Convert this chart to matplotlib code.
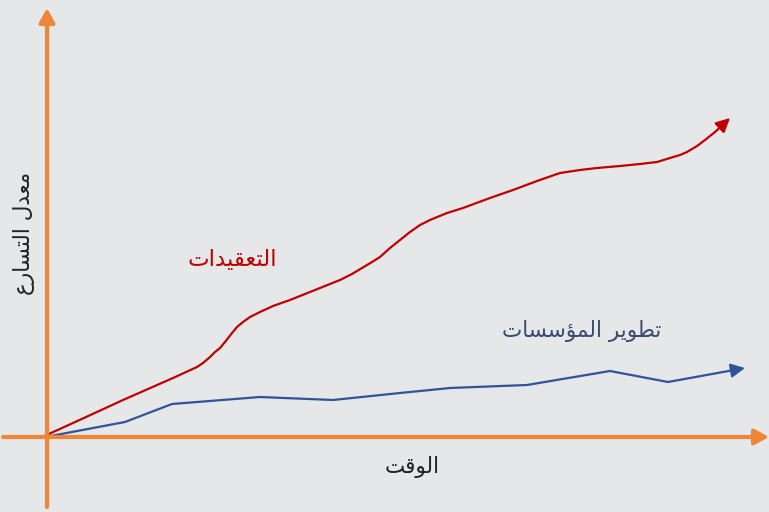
import matplotlib
matplotlib.use('Agg')
import matplotlib.pyplot as plt

# Arabic labels
y_label = 'معدل التسارع'
x_label = 'الوقت'
red_label = 'التعقيدات'
blue_label = 'تطوير المؤسسات'

# red curve (complexity)
red_time = [-7, 26, 76, 126, 150, 156, 163, 168, 173, 178, 185, 190, 196, 203, 213,
            226, 243, 293, 305, 315, 325, 333, 343, 353, 363, 373, 383, 400, 416,
            443, 466, 490, 513, 533, 550, 573, 593, 610, 623, 633, 640, 650, 658, 668, 683]
red_rate = [-1, 14, 37, 59, 70, 74, 80, 85, 89, 95, 104, 110, 115, 120, 125,
            131, 137, 157, 163, 169, 175, 180, 189, 197, 205, 212, 217, 224, 229,
            239, 247, 256, 264, 267, 269, 271, 273, 275, 279, 282, 285, 291, 297, 305, 319]

# blue polyline (organisation development)
blue_time = [-7, 78, 125, 213, 286, 353, 403, 480, 563, 621, 698]
blue_rate = [-1, 15, 33, 40, 37, 44, 49, 52, 66, 55, 69]

# matplotlib has no Arabic shaping, so pick presentation forms by hand
# (isolated, final, initial, medial)
forms = {
    'ا': ('\uFE8D', '\uFE8E', None, None),
    'ت': ('\uFE95', '\uFE96', '\uFE97', '\uFE98'),
    'ع': ('\uFEC9', '\uFECA', '\uFECB', '\uFECC'),
    'ق': ('\uFED5', '\uFED6', '\uFED7', '\uFED8'),
    'ي': ('\uFEF1', '\uFEF2', '\uFEF3', '\uFEF4'),
    'د': ('\uFEA9', '\uFEAA', None, None),
    'م': ('\uFEE1', '\uFEE2', '\uFEE3', '\uFEE4'),
    'ط': ('\uFEC1', '\uFEC2', '\uFEC3', '\uFEC4'),
    'و': ('\uFEED', '\uFEEE', None, None),
    'ر': ('\uFEAD', '\uFEAE', None, None),
    'ؤ': ('\uFE85', '\uFE86', None, None),
    'س': ('\uFEB1', '\uFEB2', '\uFEB3', '\uFEB4'),
    'ل': ('\uFEDD', '\uFEDE', '\uFEDF', '\uFEE0'),
}


def shape(text):
    out = []
    for i, ch in enumerate(text):
        if ch not in forms:
            out.append(ch)
            continue
        prev = text[i - 1] if i > 0 else ''
        nxt = text[i + 1] if i + 1 < len(text) else ''
        joins_prev = prev in forms and forms[prev][2] is not None
        joins_next = forms[ch][2] is not None and nxt in forms
        if joins_prev and joins_next:
            out.append(forms[ch][3])
        elif joins_next:
            out.append(forms[ch][2])
        elif joins_prev:
            out.append(forms[ch][1])
        else:
            out.append(forms[ch][0])
    return ''.join(out)[::-1]


bg = '#e6e7e9'
orange = '#ef8536'
red = '#c00000'
blue = '#2f5597'

fig = plt.figure(figsize=(7.69, 5.12), dpi=100, facecolor=bg)
ax = fig.add_axes([0, 0, 1, 1])
ax.set_facecolor(bg)
ax.set_xlim(-47, 722)
ax.set_ylim(-75, 437)
ax.axis('off')

# orange axes with arrow heads
axis_arrow = dict(arrowstyle='-|>,head_length=0.6,head_width=0.33', color=orange,
                  lw=3, mutation_scale=14, shrinkA=0, shrinkB=0)
ax.annotate('', xy=(0, 429), xytext=(0, -70), arrowprops=axis_arrow)
ax.annotate('', xy=(722, 0), xytext=(-44, 0), arrowprops=axis_arrow)

# the two series
ax.plot(red_time[:-1], red_rate[:-1], color=red, lw=1.6, solid_capstyle='butt',
        solid_joinstyle='round')
ax.annotate('', xy=(red_time[-1], red_rate[-1]), xytext=(red_time[-2], red_rate[-2]),
            arrowprops=dict(arrowstyle='-|>,head_length=0.6,head_width=0.3', color=red,
                            lw=1.6, mutation_scale=14, shrinkA=0, shrinkB=0))
ax.plot(blue_time[:-1], blue_rate[:-1], color=blue, lw=1.6, solid_capstyle='butt')
ax.annotate('', xy=(blue_time[-1], blue_rate[-1]), xytext=(blue_time[-2], blue_rate[-2]),
            arrowprops=dict(arrowstyle='-|>,head_length=0.6,head_width=0.3', color=blue,
                            lw=1.6, mutation_scale=14, shrinkA=0, shrinkB=0))

# labels
ax.text(185, 178, shape(red_label), color=red, fontsize=16.5, ha='center', va='center')
ax.text(535, 106, shape(blue_label), color='#3b4a70', fontsize=15.5, ha='center', va='center')
ax.text(365, -30, shape(x_label), color='#222222', fontsize=15.5, ha='center', va='center')
ax.text(-23, 204, shape(y_label), color='#222222', fontsize=15.5, ha='center', va='center',
        rotation=90)

fig.savefig('out.png', dpi=100, facecolor=bg)
